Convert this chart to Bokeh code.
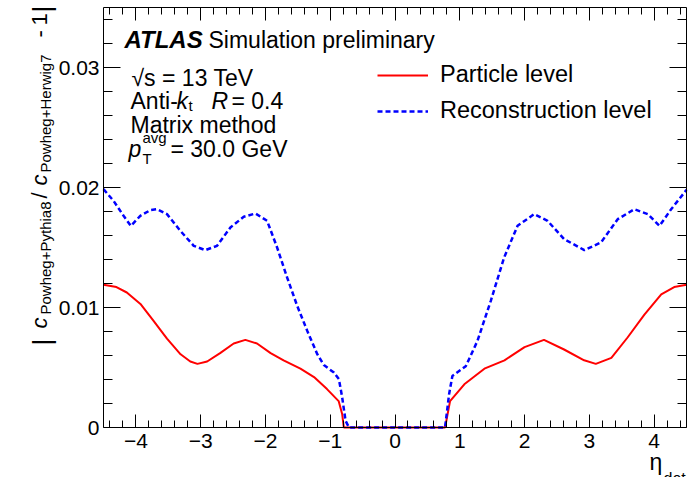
import math
import numpy as np
from bokeh.plotting import figure
from bokeh.models import Label, Legend, LegendItem, LinearAxis, FixedTicker, Range1d
from bokeh.embed import file_html
from bokeh.resources import INLINE

# |c(Powheg+Pythia8) / c(Powheg+Herwig7) - 1| versus eta_det
eta_particle = [-4.5, -4.3, -4.14, -3.93, -3.73, -3.52, -3.31, -3.16, -3.05, -2.9,
                -2.7, -2.49, -2.31, -2.13, -1.92, -1.72, -1.46, -1.25, -1.05, -0.87,
                -0.815, -0.79, 0.0, 0.773, 0.85, 1.07, 1.38, 1.69, 2.0, 2.3,
                2.61, 2.92, 3.1, 3.34, 3.59, 3.85, 4.11, 4.31, 4.5]
ratio_particle = [0.0119, 0.0117, 0.01125, 0.0103, 0.0089, 0.0074, 0.0061, 0.0055, 0.0053, 0.0055,
                  0.0062, 0.0070, 0.0073, 0.0070, 0.0062, 0.0056, 0.0049, 0.0042, 0.0032, 0.0022,
                  0.0011, 0.0, 0.0, 0.0, 0.0022, 0.0036, 0.0049, 0.0056, 0.0067, 0.0073,
                  0.0065, 0.0056, 0.0053, 0.0058, 0.0075, 0.0094, 0.0111, 0.0117, 0.0119]

eta_reco = [-4.5, -4.345, -4.19, -4.077, -3.932, -3.777, -3.674, -3.52, -3.314, -3.107,
            -2.927, -2.747, -2.541, -2.335, -2.154, -1.974, -1.82, -1.665, -1.51, -1.355,
            -1.2, -1.098, -0.943, -0.866, -0.815, -0.763, -0.71, 0.0, 0.773, 0.835,
            0.886, 1.092, 1.273, 1.479, 1.685, 1.892, 2.149, 2.355, 2.613, 2.923,
            3.18, 3.438, 3.696, 3.902, 4.083, 4.263, 4.5]
ratio_reco = [0.01986, 0.01889, 0.01764, 0.0168, 0.01764, 0.01811, 0.01819, 0.01778, 0.01639, 0.01514,
              0.01478, 0.01514, 0.01667, 0.01756, 0.01783, 0.01722, 0.0150, 0.0125, 0.01014, 0.00806,
              0.00611, 0.0052, 0.00458, 0.00403, 0.0025, 0.00056, 0.0, 0.0, 0.0, 0.00278,
              0.0043, 0.0051, 0.00722, 0.01056, 0.01417, 0.01681, 0.01778, 0.01722, 0.01569, 0.01478,
              0.01542, 0.01736, 0.01819, 0.01778, 0.0168, 0.01819, 0.0198]

x_ticks = [-4, -3, -2, -1, 0, 1, 2, 3, 4]
x_tick_labels = ["\u22124", "\u22123", "\u22122", "\u22121", "0", "1", "2", "3", "4"]
y_ticks = [0.0, 0.01, 0.02, 0.03]
y_tick_labels = ["0", "0.01", "0.02", "0.03"]

X_MIN, X_MAX = -4.5, 4.5
Y_MIN, Y_MAX = 0.0, 0.035

FONT = "Liberation Sans"
W, H = 697, 477
# pixel box of the axes inside the canvas
BOX_L, BOX_R, BOX_T, BOX_B = 103, 686, 7, 427

# the frame fills the whole canvas; the ranges are widened so that the
# axes box sits where the borders would be, and every text stays unclipped
kx = (X_MAX - X_MIN) / (BOX_R - BOX_L)
ky = (Y_MAX - Y_MIN) / (BOX_B - BOX_T)
x_range = Range1d(X_MIN - BOX_L * kx, X_MAX + (W - BOX_R) * kx)
y_range = Range1d(Y_MIN - (H - BOX_B) * ky, Y_MAX + BOX_T * ky)

p = figure(width=W, height=H, x_range=x_range, y_range=y_range,
           x_axis_type=None, y_axis_type=None, output_backend="svg", toolbar_location=None,
           min_border=0)
p.outline_line_color = None
p.background_fill_color = "white"
p.border_fill_color = "white"

x_minor = [round(v, 1) for v in np.arange(-4.4, 4.5, 0.2)]
y_minor = [round(v, 3) for v in np.arange(0.002, 0.035, 0.002)]


def make_axis(ticks, minor, labels, tick_len, minor_len, where, bounds, show_labels):
    ax = LinearAxis(ticker=FixedTicker(ticks=ticks, minor_ticks=minor),
                    fixed_location=where, bounds=bounds)
    ax.axis_line_color = "black"
    ax.major_tick_line_color = "black"
    ax.minor_tick_line_color = "black"
    ax.major_tick_in = tick_len
    ax.major_tick_out = 0
    ax.minor_tick_in = minor_len
    ax.minor_tick_out = 0
    ax.major_label_overrides = dict(zip(ticks, labels))
    ax.major_label_text_font = FONT
    ax.major_label_text_font_size = "21px"
    ax.major_label_text_color = "black" if show_labels else None
    return ax


bottom = make_axis(x_ticks, x_minor, x_tick_labels, 13, 7, Y_MIN, (X_MIN, X_MAX), True)
bottom.major_label_standoff = 6
left = make_axis(y_ticks, y_minor, y_tick_labels, 17, 9, X_MIN, (Y_MIN, Y_MAX), True)
left.major_label_standoff = 4
top = make_axis(x_ticks, x_minor, x_tick_labels, 13, 7, Y_MAX, (X_MIN, X_MAX), False)
right = make_axis(y_ticks, y_minor, y_tick_labels, 17, 9, X_MAX, (Y_MIN, Y_MAX), False)
p.add_layout(bottom, "below")
p.add_layout(left, "left")
p.add_layout(top, "above")
p.add_layout(right, "right")

r_part = p.line(eta_particle, ratio_particle, line_color="#ff0000", line_width=2)
r_reco = p.line(eta_reco, ratio_reco, line_color="#0000ff", line_width=2.5, line_dash="5 3")

legend = Legend(items=[LegendItem(label="Particle level", renderers=[r_part]),
                       LegendItem(label="Reconstruction level", renderers=[r_reco])],
                location=(377, 353))
legend.border_line_color = None
legend.background_fill_alpha = 0
legend.label_text_font = FONT
legend.label_text_font_size = "23.5px"
legend.label_text_color = "black"
legend.glyph_width = 51
legend.glyph_height = 20
legend.label_height = 27
legend.spacing = 9
legend.padding = 0
legend.margin = 0
legend.label_standoff = 12
p.add_layout(legend)


def txt(s, x, y, size, style="normal", angle=0.0):
    p.add_layout(Label(x=x, y=y, x_units="canvas", y_units="canvas", text=s,
                       text_font=FONT, text_font_size=f"{size}px", text_font_style=style,
                       text_baseline="alphabetic", text_align="left", angle=angle,
                       text_color="black"))


# header block
txt("ATLAS", 124, 39, 24, "bold italic")
txt("Simulation preliminary", 208, 39, 23)
txt("\u221as = 13 TeV", 131, 77, 23)
txt("Anti-", 130, 100, 23)
txt("k", 176, 100, 23, "italic")
txt("t", 188, 105, 15)
txt("R", 211, 100, 23, "italic")
txt("= 0.4", 231, 100, 23)
txt("Matrix method", 130, 124, 23)
txt("p", 128, 148, 23, "italic")
txt("avg", 142, 137, 15)
txt("T", 142, 158, 15)
txt("= 30.0 GeV", 170, 148, 23)

# x-axis title
txt("\u03b7", 649, 461, 23)
txt("det", 663, 478, 16)

# y-axis title, rotated to read upwards
up = math.pi / 2
txt("|", 41, 345, 26, angle=up)
txt("c", 39, 328, 22, "italic", angle=up)
txt("Powheg+Pythia8", 45, 314, 15, angle=up)
txt("/", 39, 198, 22, angle=up)
txt("c", 39, 185, 22, "italic", angle=up)
txt("Powheg+Herwig7", 45, 172, 15, angle=up)
txt("-", 39, 37, 22, angle=up)
txt("1", 39, 25, 22, angle=up)
txt("|", 41, 12, 26, angle=up)

open("out.html", "w").write(file_html(p, INLINE))
